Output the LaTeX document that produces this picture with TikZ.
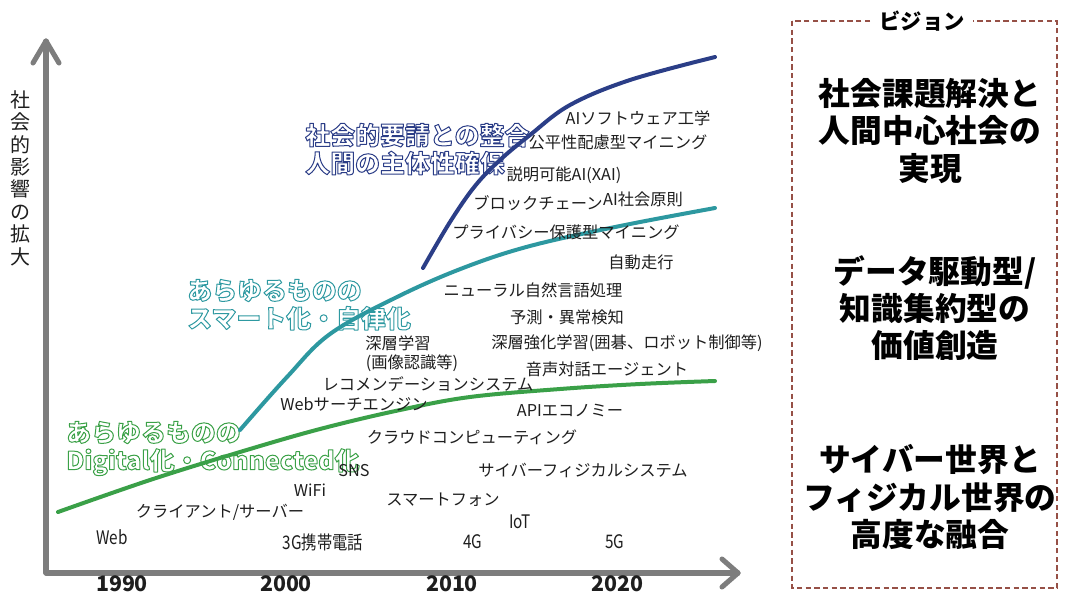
\documentclass[tikz,border=0pt]{standalone}
\usepackage{fontspec}
\setmainfont{Noto Sans CJK JP}
\newfontfamily\jpc{Noto Sans CJK JP}[FakeStretch=0.82]
\definecolor{navyc}{RGB}{43,62,135}
\definecolor{tealc}{RGB}{45,152,160}
\definecolor{greenc}{RGB}{58,160,72}
\definecolor{axisc}{RGB}{125,125,125}
\definecolor{boxc}{RGB}{150,80,70}
\definecolor{txt}{RGB}{30,30,30}
\newcommand\outl[2]{\special{pdf:literal direct #1 RG 1 1 1 rg 2 Tr 0.75 w 1 j}#2\special{pdf:literal direct 0 Tr 0 g 0 G}}
\begin{document}
\begin{tikzpicture}[x=0.75pt,y=-0.75pt,
  lbl/.style={text=txt,inner sep=0pt,font=\fontsize{12.2}{14}\selectfont},
  cond/.style={text=txt,inner sep=0pt,font=\jpc\fontsize{14}{16}\selectfont},
  year/.style={text=txt,inner sep=0pt,font=\bfseries\fontsize{16}{18}\selectfont},
  axisline/.style={draw=axisc,line width=3.8pt,line cap=round,line join=round},
  curve/.style={line width=3pt,line cap=round},
  era/.style={inner sep=0pt,anchor=north west,align=left,font=\bfseries\fontsize{18.7}{21}\selectfont},
  vision/.style={inner sep=0pt,align=center,font=\bfseries\fontsize{23.8}{27.8}\selectfont,text=black}]
\useasboundingbox (0,0) rectangle (1067,597);

% axes
\coordinate (O) at (46,573);
\coordinate (Ytop) at (46,41);
\coordinate (Xend) at (738,573);
\draw[axisline] (O) -- (Ytop);
\draw[axisline] (Ytop) ++(-13,22) -- (Ytop) -- ++(13,22);
\draw[axisline] (O) -- (Xend);
\draw[axisline] (Xend) ++(-16,-14) -- (Xend) -- ++(-16,14);

\node[inner sep=0pt,align=center,text=txt,font=\fontsize{15}{16.8}\selectfont] (ylab) at (21,178) {社\\会\\的\\影\\響\\の\\拡\\大};

% year labels
\node[year] (y1990) at (122,584) {1990};
\node[year] (y2000) at (286,584) {2000};
\node[year] (y2010) at (452,584) {2010};
\node[year] (y2020) at (617,584) {2020};

% era labels (outlined)
\node[era] (eraN) at (305,123) {\outl{0.17 0.24 0.53}{社会的要請との整合\\人間の主体性確保}};
\node[era] (eraT) at (187,279) {\outl{0.18 0.6 0.63}{あらゆるものの\\スマート化・自律化}};
\node[era] (eraG) at (66,421) {\outl{0.23 0.63 0.28}{あらゆるものの\\Digital化・Connected化}};

% curves
\draw[curve,greenc] plot[smooth,tension=0.6] coordinates {(58,512) (150,480) (240,452) (320,429) (400,410) (470,397) (560,389) (640,384) (715,381)};
\draw[curve,tealc] plot[smooth,tension=0.6] coordinates {(240,430) (287,377) (330,334) (397,297) (463,268) (530,246) (620,226) (715,208)};
\draw[curve,navyc] plot[smooth,tension=0.6] coordinates {(423,268) (450,222) (475,186) (500,160) (530,135) (570,105) (630,80) (715,57)};

% item labels
\node[lbl] (l1) at (638,118) {AIソフトウェア工学};
\node[lbl] (l2) at (618,142) {公平性配慮型マイニング};
\node[lbl] (l3) at (564,175) {説明可能AI(XAI)};
\node[lbl] (l4) at (538,203) {ブロックチェーン};
\node[lbl] (l5) at (643,199) {AI社会原則};
\node[lbl] (l6) at (566,232) {プライバシー保護型マイニング};
\node[lbl] (l7) at (641,262) {自動走行};
\node[lbl] (l8) at (533,290) {ニューラル自然言語処理};
\node[lbl] (l9) at (567,317) {予測・異常検知};
\node[lbl] (l10) at (627,343) {深層強化学習(囲碁、ロボット制御等)};
\node[lbl] (l11) at (398,343) {深層学習};
\node[lbl] (l12) at (412,363) {(画像認識等)};
\node[lbl] (l13) at (607,369) {音声対話エージェント};
\node[lbl] (l14) at (428,384) {レコメンデーションシステム};
\node[lbl] (l15) at (354,404) {Webサーチエンジン};
\node[lbl] (l16) at (570,411) {APIエコノミー};
\node[lbl] (l17) at (472,437) {クラウドコンピューティング};
\node[lbl] (l18) at (354,471) {SNS};
\node[lbl] (l19) at (583,470) {サイバーフィジカルシステム};
\node[lbl] (l20) at (310,490) {WiFi};
\node[lbl] (l21) at (443,500) {スマートフォン};
\node[lbl] (l22) at (220,512) {クライアント/サーバー};
\node[cond] (l23) at (520,522) {IoT};
\node[cond] (l24) at (112,537) {Web};
\node[cond] (l25) at (323,542) {3G携帯電話};
\node[cond] (l26) at (473,542) {4G};
\node[cond] (l27) at (615,542) {5G};

% vision box
\draw[boxc,line width=0.8pt,dash pattern=on 4pt off 2.5pt] (792,21) rectangle (1057,588);
\node[fill=white,inner xsep=6pt,inner ysep=2pt,font=\bfseries\fontsize{16}{18}\selectfont,text=black] (vtitle) at (922,21) {ビジョン};
\node[vision] (v1) at (930,131) {社会課題解決と\\人間中心社会の\\実現};
\node[vision] (v2) at (935,308) {データ駆動型/\\知識集約型の\\価値創造};
\node[vision] (v3) at (930,497) {サイバー世界と\\フィジカル世界の\\高度な融合};
\end{tikzpicture}
\end{document}
